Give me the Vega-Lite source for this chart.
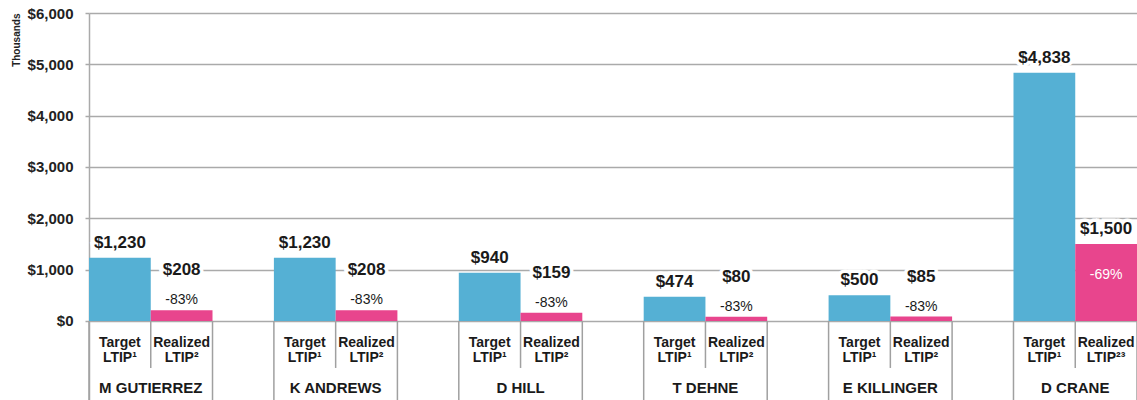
{
  "$schema": "https://vega.github.io/schema/vega-lite/v6.json",
  "autosize": {"type": "none"},
  "padding": {"left": 89, "top": 13, "right": 0, "bottom": 0},
  "width": 1048,
  "height": 387,
  "config": {"view": {"stroke": null}, "font": "Liberation Sans"},
  "datasets": {
    "bars": [
      {"person": "M GUTIERREZ", "type": "Target", "value": 1230, "pct": "", "cat": "Target\nLTIP¹"},
      {"person": "M GUTIERREZ", "type": "Realized", "value": 208, "pct": "-83%", "cat": "Realized\nLTIP²"},
      {"person": "K ANDREWS", "type": "Target", "value": 1230, "pct": "", "cat": "Target\nLTIP¹"},
      {"person": "K ANDREWS", "type": "Realized", "value": 208, "pct": "-83%", "cat": "Realized\nLTIP²"},
      {"person": "D HILL", "type": "Target", "value": 940, "pct": "", "cat": "Target\nLTIP¹"},
      {"person": "D HILL", "type": "Realized", "value": 159, "pct": "-83%", "cat": "Realized\nLTIP²"},
      {"person": "T DEHNE", "type": "Target", "value": 474, "pct": "", "cat": "Target\nLTIP¹"},
      {"person": "T DEHNE", "type": "Realized", "value": 80, "pct": "-83%", "cat": "Realized\nLTIP²"},
      {"person": "E KILLINGER", "type": "Target", "value": 500, "pct": "", "cat": "Target\nLTIP¹"},
      {"person": "E KILLINGER", "type": "Realized", "value": 85, "pct": "-83%", "cat": "Realized\nLTIP²"},
      {"person": "D CRANE", "type": "Target", "value": 4838, "pct": "", "cat": "Target\nLTIP¹"},
      {"person": "D CRANE", "type": "Realized", "value": 1500, "pct": "-69%", "cat": "Realized\nLTIP²³"}
    ],
    "people": [
      {"person": "M GUTIERREZ"},
      {"person": "K ANDREWS"},
      {"person": "D HILL"},
      {"person": "T DEHNE"},
      {"person": "E KILLINGER"},
      {"person": "D CRANE"}
    ]
  },
  "data": {"name": "bars"},
  "encoding": {
    "x": {
      "field": "person", "type": "nominal", "axis": null,
      "scale": {
        "domain": ["M GUTIERREZ", "K ANDREWS", "D HILL", "T DEHNE", "E KILLINGER", "D CRANE"],
        "paddingInner": 0.332, "paddingOuter": 0
      }
    }
  },
  "layer": [
    {
      "mark": {"type": "bar"},
      "encoding": {
        "xOffset": {"field": "type", "type": "nominal", "scale": {"domain": ["Target", "Realized"], "paddingInner": 0, "paddingOuter": 0}},
        "y": {
          "field": "value", "type": "quantitative",
          "scale": {"domain": [-1540, 6000], "nice": false, "zero": false},
          "axis": {
            "values": [0, 1000, 2000, 3000, 4000, 5000, 6000],
            "format": "$,d",
            "labelFont": "Liberation Sans", "labelFontSize": 15, "labelFontWeight": "bold", "labelColor": "#222222",
            "labelPadding": 12, "tickSize": 4, "tickColor": "#aaaaaa", "tickWidth": 1.5,
            "domainColor": "#aaaaaa", "domainWidth": 1.5,
            "grid": true, "gridColor": "#aaaaaa", "gridWidth": 1.5,
            "title": "Thousands", "titleFont": "Liberation Sans", "titleFontSize": 10, "titleFontWeight": "bold", "titleColor": "#222222",
            "titleAngle": -90, "titleAlign": "right", "titleBaseline": "middle", "titleX": -73, "titleY": 0
          }
        },
        "y2": {"datum": 0},
        "color": {"field": "type", "type": "nominal", "scale": {"domain": ["Target", "Realized"], "range": ["#55b0d4", "#e8458d"]}, "legend": null}
      }
    },
    {
      "data": {"name": "people"},
      "mark": {"type": "rule", "color": "#a0a0a0", "strokeWidth": 1.5},
      "encoding": {"x": {"field": "person", "type": "nominal", "bandPosition": 0}, "y": {"datum": 0}, "y2": {"datum": -1540}}
    },
    {
      "data": {"name": "people"},
      "mark": {"type": "rule", "color": "#a0a0a0", "strokeWidth": 1.5},
      "encoding": {"x": {"field": "person", "type": "nominal", "bandPosition": 1}, "y": {"datum": 0}, "y2": {"datum": -1540}}
    },
    {
      "data": {"name": "people"},
      "mark": {"type": "rule", "color": "#a0a0a0", "strokeWidth": 1.5},
      "encoding": {"x": {"field": "person", "type": "nominal", "bandPosition": 0.5}, "y": {"datum": 0}, "y2": {"datum": -916}}
    },
    {
      "data": {"name": "people"},
      "mark": {"type": "text", "font": "Liberation Sans", "fontSize": 15, "fontWeight": "bold", "color": "#1a1a1a", "baseline": "middle"},
      "encoding": {"x": {"field": "person", "type": "nominal", "bandPosition": 0.5}, "y": {"datum": -1305}, "text": {"field": "person"}}
    },
    {
      "mark": {"type": "text", "font": "Liberation Sans", "fontSize": 14, "fontWeight": "bold", "color": "#1a1a1a", "baseline": "middle", "lineBreak": "\n", "lineHeight": 15},
      "encoding": {
        "xOffset": {"field": "type", "type": "nominal", "scale": {"domain": ["Target", "Realized"], "paddingInner": 0, "paddingOuter": 0}},
        "y": {"datum": -438},
        "text": {"field": "cat"}
      }
    },
    {
      "transform": [{"filter": "datum.type == 'Target' || datum.value >= 1000"}],
      "mark": {"type": "text", "font": "Liberation Sans", "fontSize": 17, "fontWeight": "bold", "color": "white", "stroke": "white", "strokeWidth": 7, "baseline": "middle", "dy": -15},
      "encoding": {
        "xOffset": {"field": "type", "type": "nominal", "scale": {"domain": ["Target", "Realized"], "paddingInner": 0, "paddingOuter": 0}},
        "y": {"field": "value", "type": "quantitative"},
        "text": {"field": "value", "type": "quantitative", "format": "$,d"}
      }
    },
    {
      "transform": [{"filter": "datum.type == 'Realized' && datum.value < 1000"}],
      "mark": {"type": "text", "font": "Liberation Sans", "fontSize": 17, "fontWeight": "bold", "color": "white", "stroke": "white", "strokeWidth": 7, "baseline": "middle", "dy": -40},
      "encoding": {
        "xOffset": {"field": "type", "type": "nominal", "scale": {"domain": ["Target", "Realized"], "paddingInner": 0, "paddingOuter": 0}},
        "y": {"field": "value", "type": "quantitative"},
        "text": {"field": "value", "type": "quantitative", "format": "$,d"}
      }
    },
    {
      "transform": [{"filter": "datum.type == 'Target' || datum.value >= 1000"}],
      "mark": {"type": "text", "font": "Liberation Sans", "fontSize": 17, "fontWeight": "bold", "color": "#1a1a1a", "baseline": "middle", "dy": -15},
      "encoding": {
        "xOffset": {"field": "type", "type": "nominal", "scale": {"domain": ["Target", "Realized"], "paddingInner": 0, "paddingOuter": 0}},
        "y": {"field": "value", "type": "quantitative"},
        "text": {"field": "value", "type": "quantitative", "format": "$,d"}
      }
    },
    {
      "transform": [{"filter": "datum.type == 'Realized' && datum.value < 1000"}],
      "mark": {"type": "text", "font": "Liberation Sans", "fontSize": 17, "fontWeight": "bold", "color": "#1a1a1a", "baseline": "middle", "dy": -40},
      "encoding": {
        "xOffset": {"field": "type", "type": "nominal", "scale": {"domain": ["Target", "Realized"], "paddingInner": 0, "paddingOuter": 0}},
        "y": {"field": "value", "type": "quantitative"},
        "text": {"field": "value", "type": "quantitative", "format": "$,d"}
      }
    },
    {
      "transform": [{"filter": "datum.type == 'Realized' && datum.value < 1000"}],
      "mark": {"type": "text", "font": "Liberation Sans", "fontSize": 14, "color": "#1a1a1a", "baseline": "middle", "dy": -10},
      "encoding": {
        "xOffset": {"field": "type", "type": "nominal", "scale": {"domain": ["Target", "Realized"], "paddingInner": 0, "paddingOuter": 0}},
        "y": {"field": "value", "type": "quantitative"},
        "text": {"field": "pct"}
      }
    },
    {
      "transform": [{"filter": "datum.type == 'Realized' && datum.value >= 1000"}],
      "mark": {"type": "text", "font": "Liberation Sans", "fontSize": 14, "color": "white", "baseline": "middle", "dy": 31},
      "encoding": {
        "xOffset": {"field": "type", "type": "nominal", "scale": {"domain": ["Target", "Realized"], "paddingInner": 0, "paddingOuter": 0}},
        "y": {"field": "value", "type": "quantitative"},
        "text": {"field": "pct"}
      }
    }
  ]
}
